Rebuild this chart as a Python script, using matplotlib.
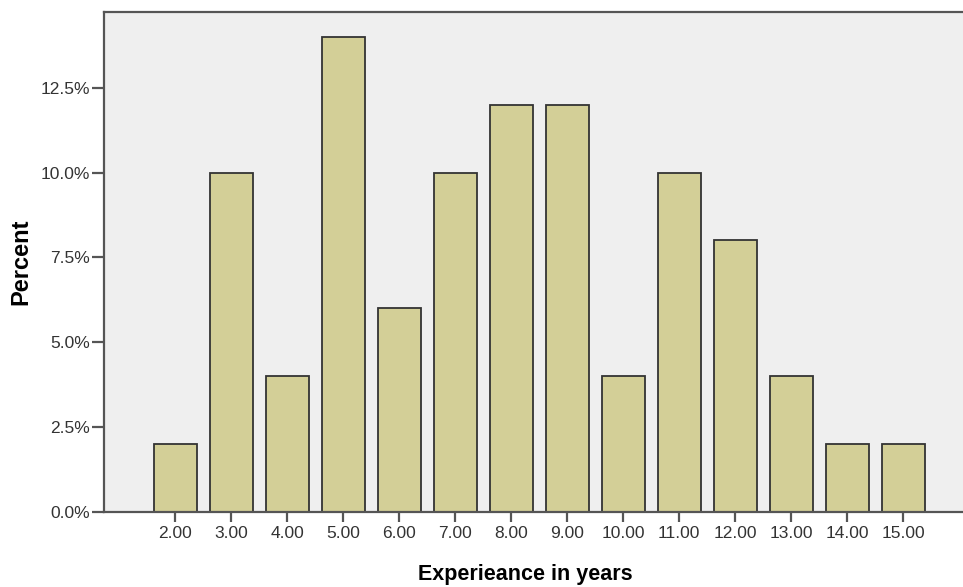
import matplotlib.pyplot as plt
from matplotlib.ticker import FuncFormatter

years = [2, 3, 4, 5, 6, 7, 8, 9, 10, 11, 12, 13, 14, 15]
percent = [2, 10, 4, 14, 6, 10, 12, 12, 4, 10, 8, 4, 2, 2]
tick_labels = ['%.2f' % y for y in years]
y_ticks = [0, 2.5, 5, 7.5, 10, 12.5]

plt.rcParams['font.family'] = ['Liberation Sans', 'DejaVu Sans']

fig = plt.figure(figsize=(9.63, 5.87), dpi=100)
ax = fig.add_axes([0.108, 0.128, 0.892, 0.852])
ax.set_facecolor('#efefef')

ax.bar(years, percent, width=0.77, color='#d3cf97', edgecolor='#333333', linewidth=1.3, zorder=2)

ax.set_xlim(0.73, 16.07)
ax.set_ylim(0, 14.74)
ax.set_xticks(years)
ax.set_xticklabels(tick_labels)
ax.set_yticks(y_ticks)
ax.yaxis.set_major_formatter(FuncFormatter(lambda v, p: '%.1f%%' % v))

for s in ['left', 'bottom', 'top']:
    ax.spines[s].set_color('#555555')
    ax.spines[s].set_linewidth(1.6)
ax.spines['right'].set_visible(False)

ax.tick_params(axis='y', length=9, width=1.6, color='#555555', labelsize=12.5, labelcolor='#333333', pad=1)
ax.tick_params(axis='x', length=7, width=1.6, color='#555555', labelsize=12.5, labelcolor='#333333', pad=3)

ax.set_xlabel('Experieance in years', fontsize=15.5, fontweight='bold')
ax.set_ylabel('Percent', fontsize=17, fontweight='bold', labelpad=6)
ax.xaxis.set_label_coords(0.49, -0.104)

fig.savefig('out.png', dpi=100)
